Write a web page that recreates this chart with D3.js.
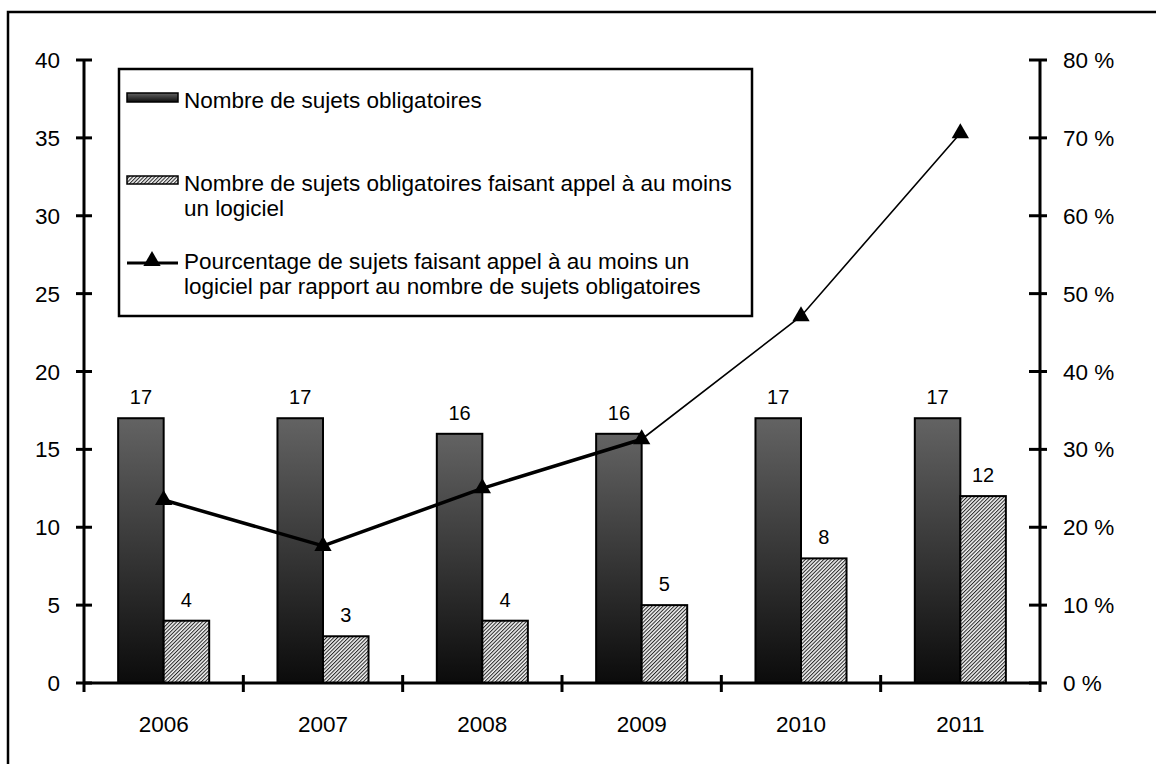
<!DOCTYPE html>
<html>
<head>
<meta charset="utf-8">
<script src="https://cdn.jsdelivr.net/npm/d3@7/dist/d3.min.js"></script>
<style>
  html, body { margin: 0; padding: 0; background: #fff; }
  svg { display: block; font-family: "Liberation Sans", Arial, sans-serif; }
</style>
</head>
<body>
<svg id="chart" width="1156" height="764"></svg>
<script>
// Years on the category axis
const years = ["2006", "2007", "2008", "2009", "2010", "2011"];
// Number of compulsory subjects
const totalSubjects = [17, 17, 16, 16, 17, 17];
// Number of compulsory subjects that use at least one piece of software
const softwareSubjects = [4, 3, 4, 5, 8, 12];
// Share of subjects using software (percent)
const sharePercent = [23.5, 17.6, 25.0, 31.3, 47.1, 70.6];
// Axis tick labels
const leftTicks = [0, 5, 10, 15, 20, 25, 30, 35, 40];
const rightTicks = [0, 10, 20, 30, 40, 50, 60, 70, 80];
// Legend texts (one array per entry, one string per line)
const legendLabels = [
  ["Nombre de sujets obligatoires"],
  ["Nombre de sujets obligatoires faisant appel à au moins", "un logiciel"],
  ["Pourcentage de sujets faisant appel à au moins un", "logiciel par rapport au nombre de sujets obligatoires"]
];

const svg = d3.select("#chart");
const FONT = 22.5;

const plot = { left: 84, right: 1040, top: 60, bottom: 683 };

const x = d3.scaleBand().domain(years).range([plot.left, plot.right]).paddingInner(0).paddingOuter(0);
const inner = d3.scaleBand().domain(["total", "soft"]).range([0, x.bandwidth()]).paddingInner(0).paddingOuter(0.75);
const yL = d3.scaleLinear().domain([0, 40]).range([plot.bottom, plot.top]);
const yR = d3.scaleLinear().domain([0, 80]).range([plot.bottom, plot.top]);

// Definitions: gradient for the dark bars, diagonal hatching for the light ones
const defs = svg.append("defs");
const grad = defs.append("linearGradient").attr("id", "darkGrad")
  .attr("x1", 0).attr("y1", 0).attr("x2", 0).attr("y2", 1);
grad.append("stop").attr("offset", "0%").attr("stop-color", "#636363");
grad.append("stop").attr("offset", "100%").attr("stop-color", "#0b0b0b");

const hatch = defs.append("pattern").attr("id", "hatch")
  .attr("patternUnits", "userSpaceOnUse").attr("width", 2.6).attr("height", 2.6)
  .attr("patternTransform", "rotate(45)");
hatch.append("rect").attr("width", 2.6).attr("height", 2.6).attr("fill", "#f2f2f2");
hatch.append("line").attr("x1", 0.5).attr("y1", 0).attr("x2", 0.5).attr("y2", 2.6)
  .attr("stroke", "#262626").attr("stroke-width", 1.05);

// Outer frame
svg.append("rect").attr("x", 8).attr("y", 12).attr("width", 1170).attr("height", 780)
  .attr("fill", "none").attr("stroke", "#000").attr("stroke-width", 2.5);

// Bars
const bars = svg.append("g");
years.forEach((yr, i) => {
  bars.append("rect")
    .attr("x", x(yr) + inner("total")).attr("width", inner.bandwidth())
    .attr("y", yL(totalSubjects[i])).attr("height", yL(0) - yL(totalSubjects[i]))
    .attr("fill", "url(#darkGrad)").attr("stroke", "#000").attr("stroke-width", 2);
  bars.append("rect")
    .attr("x", x(yr) + inner("soft")).attr("width", inner.bandwidth())
    .attr("y", yL(softwareSubjects[i])).attr("height", yL(0) - yL(softwareSubjects[i]))
    .attr("fill", "url(#hatch)").attr("stroke", "#000").attr("stroke-width", 2);
});

// Value labels above bars
const labels = svg.append("g").attr("font-size", 20).attr("text-anchor", "middle").attr("fill", "#000");
years.forEach((yr, i) => {
  labels.append("text")
    .attr("x", x(yr) + inner("total") + inner.bandwidth() / 2)
    .attr("y", yL(totalSubjects[i]) - 14)
    .text(totalSubjects[i]);
  labels.append("text")
    .attr("x", x(yr) + inner("soft") + inner.bandwidth() / 2)
    .attr("y", yL(softwareSubjects[i]) - 14)
    .text(softwareSubjects[i]);
});

// Left axis
const axisL = svg.append("g");
axisL.append("line").attr("x1", plot.left).attr("x2", plot.left)
  .attr("y1", yL(40)).attr("y2", yL(0) + 9).attr("stroke", "#000").attr("stroke-width", 3);
leftTicks.forEach(t => {
  axisL.append("line").attr("x1", plot.left - 8).attr("x2", plot.left + 8)
    .attr("y1", yL(t)).attr("y2", yL(t)).attr("stroke", "#000").attr("stroke-width", 3);
  axisL.append("text").attr("x", 60).attr("y", yL(t) + 8)
    .attr("text-anchor", "end").attr("font-size", FONT).text(t);
});

// Right axis
const axisR = svg.append("g");
axisR.append("line").attr("x1", plot.right).attr("x2", plot.right)
  .attr("y1", yR(80)).attr("y2", yR(0) + 9).attr("stroke", "#000").attr("stroke-width", 3);
rightTicks.forEach(t => {
  axisR.append("line").attr("x1", plot.right - 11).attr("x2", plot.right + 7)
    .attr("y1", yR(t)).attr("y2", yR(t)).attr("stroke", "#000").attr("stroke-width", 3);
  axisR.append("text").attr("x", 1063).attr("y", yR(t) + 8)
    .attr("text-anchor", "start").attr("font-size", FONT).text(t + " %");
});

// Category axis
const axisX = svg.append("g");
axisX.append("line").attr("x1", plot.left).attr("x2", plot.right)
  .attr("y1", plot.bottom).attr("y2", plot.bottom).attr("stroke", "#000").attr("stroke-width", 3);
years.slice(1).forEach(yr => {
  axisX.append("line").attr("x1", x(yr)).attr("x2", x(yr))
    .attr("y1", plot.bottom - 8).attr("y2", plot.bottom + 9)
    .attr("stroke", "#000").attr("stroke-width", 3);
});
years.forEach(yr => {
  axisX.append("text").attr("x", x(yr) + x.bandwidth() / 2).attr("y", 732)
    .attr("text-anchor", "middle").attr("font-size", FONT).text(yr);
});

// Percentage line: heavier stroke up to 2009, thinner afterwards
const pts = years.map((yr, i) => [x(yr) + x.bandwidth() / 2, yR(sharePercent[i])]);
const line = d3.line();
svg.append("path").attr("d", line(pts.slice(0, 4)))
  .attr("fill", "none").attr("stroke", "#000").attr("stroke-width", 3.5).attr("stroke-linejoin", "round");
svg.append("path").attr("d", line(pts.slice(3)))
  .attr("fill", "none").attr("stroke", "#000").attr("stroke-width", 1.6);

const tri = d3.symbol().type(d3.symbolTriangle).size(130);
svg.append("g").selectAll("path").data(pts).join("path")
  .attr("transform", d => `translate(${d[0]},${d[1]})`)
  .attr("d", tri).attr("fill", "#000");

// Legend
const lg = svg.append("g");
lg.append("rect").attr("x", 119).attr("y", 69).attr("width", 633).attr("height", 247)
  .attr("fill", "#fff").attr("stroke", "#000").attr("stroke-width", 2.5);

lg.append("rect").attr("x", 127).attr("y", 93).attr("width", 51).attr("height", 9)
  .attr("fill", "url(#darkGrad)").attr("stroke", "#000").attr("stroke-width", 1.5);
lg.append("rect").attr("x", 127).attr("y", 176).attr("width", 51).attr("height", 8)
  .attr("fill", "url(#hatch)").attr("stroke", "#000").attr("stroke-width", 1.5);
lg.append("line").attr("x1", 127).attr("x2", 178).attr("y1", 263).attr("y2", 263)
  .attr("stroke", "#000").attr("stroke-width", 3);
lg.append("path").attr("transform", "translate(152,261)").attr("d", tri).attr("fill", "#000");

const baselines = [[108], [191, 216], [269, 294]];
legendLabels.forEach((lines, i) => {
  lines.forEach((s, j) => {
    lg.append("text").attr("x", 184).attr("y", baselines[i][j])
      .attr("font-size", FONT).text(s);
  });
});
</script>
</body>
</html>
